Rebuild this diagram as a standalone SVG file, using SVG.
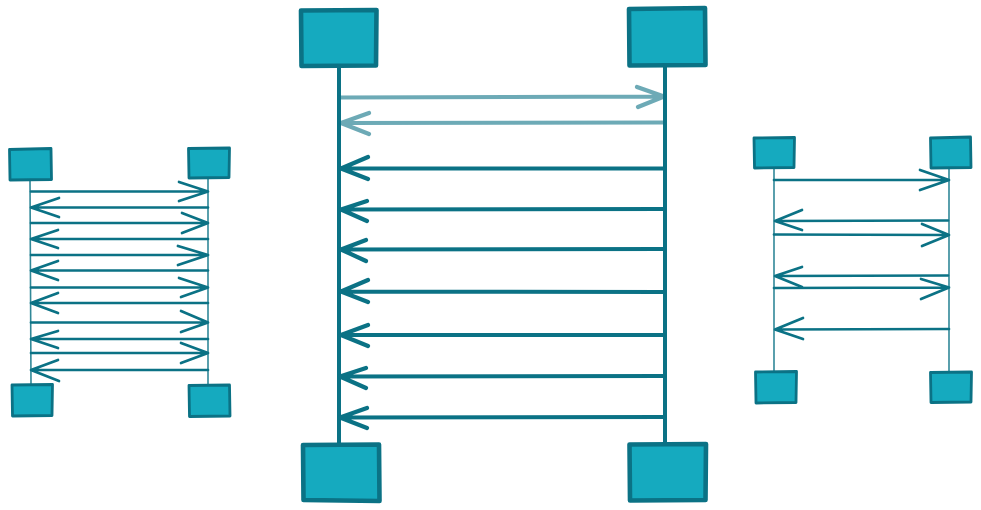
<svg xmlns="http://www.w3.org/2000/svg" width="981" height="510" viewBox="0 0 981 510">
<style>
.box{fill:#15aabf;stroke:#0b7285;stroke-linejoin:round}
.bs{stroke-width:2.8}
.bl{stroke-width:4.6}
.ln{fill:none;stroke:#0b7285;stroke-linecap:round;stroke-linejoin:round}
.life-s{stroke-width:1.6;opacity:0.85}
.life-l{stroke-width:4}
.s{stroke-width:2.7}
.l{stroke-width:4.2}
.faint{opacity:0.6}
</style>
<rect width="981" height="510" fill="#ffffff"/>
<g id="connectors">
  <path class="ln life-s" d="M30 180 L31 386"/>
  <path class="ln life-s" d="M208 178 L208 386"/>
  <path class="ln s" d="M31 191.5 L208 191.5 M179 182 L208 191.5 L179 201"/>
  <path class="ln s" d="M208 207.5 L31 207.5 M59 198 L31 207.5 L59 217"/>
  <path class="ln s" d="M31 223 L208 223 M182 213 L208 223 L182 233"/>
  <path class="ln s" d="M208 239 L31 239 M58 230 L31 239 L58 248"/>
  <path class="ln s" d="M31 255 L208 255 M178 246 L208 255 L178 265"/>
  <path class="ln s" d="M208 270.5 L31 270.5 M58 261 L31 270.5 L58 280"/>
  <path class="ln s" d="M31 287.5 L208 287.5 M179 278 L208 287.5 L181 297"/>
  <path class="ln s" d="M208 303 L31 303 M58 293 L31 303 L58 313"/>
  <path class="ln s" d="M31 322.5 L208 322.5 M181 311 L208 322.5 L181 332"/>
  <path class="ln s" d="M208 339 L31 339 M58 331 L31 339 L58 348"/>
  <path class="ln s" d="M31 353 L208 353 M181 343 L208 353 L181 363"/>
  <path class="ln s" d="M208 370 L31 370 M58 360 L31 370 L59 381"/>
  <path class="ln life-l" d="M339 66 L339 445"/>
  <path class="ln life-l" d="M665 65 L665 444"/>
  <path class="ln l faint" d="M340 97.5 L664 96.5 M637 87 L664 96.5 L638 107"/>
  <path class="ln l faint" d="M663 122.5 L341 123 M369 113 L341 123 L369 134"/>
  <path class="ln l" d="M663 168.5 L341 168.5 M368 157 L341 168.5 L368 179"/>
  <path class="ln l" d="M663 209 L341 209.5 M367 201 L341 209.5 L367 221"/>
  <path class="ln l" d="M663 249 L341 249.5 M366 240 L341 249.5 L366 261"/>
  <path class="ln l" d="M663 292 L341 291.5 M368 280 L341 291.5 L368 302"/>
  <path class="ln l" d="M663 335 L341 335 M368 325 L341 335 L368 346"/>
  <path class="ln l" d="M664 376 L340 376.5 M366 368 L340 376.5 L366 388"/>
  <path class="ln l" d="M664 417 L340 417.5 M367 408 L340 417.5 L367 428"/>
  <path class="ln life-s" d="M774 168 L774 372"/>
  <path class="ln life-s" d="M949 168 L949 373"/>
  <path class="ln s" d="M774 180 L949 180 M920 170 L949 180 L920 190"/>
  <path class="ln s" d="M948 220.5 L775 221 M802 210 L775 221 L802 230"/>
  <path class="ln s" d="M774 234.5 L949 235 M922 224 L949 235 L922 246"/>
  <path class="ln s" d="M948 275.5 L775 276 M802 267 L775 276 L802 287"/>
  <path class="ln s" d="M774 288 L949 287.5 M921 279 L949 287.5 L921 299"/>
  <path class="ln s" d="M949 329 L775 329.5 M803 318 L775 329.5 L803 339"/>
</g>
<g id="left-top-a"><path class="box bs" d="M9.5 149.5 L51 148.5 L51.5 179.5 L10 180 Z"/></g>
<g id="left-top-b"><path class="box bs" d="M188.5 148.5 L229.5 148 L229 177.5 L189 178 Z"/></g>
<g id="left-bottom-a"><path class="box bs" d="M12 385 L52.5 384.5 L52 415.5 L12.5 416 Z"/></g>
<g id="left-bottom-b"><path class="box bs" d="M189 385.5 L229.5 385 L230 416 L189.5 416.5 Z"/></g>
<g id="center-top-a"><path class="box bl" d="M301 10.5 L376.5 10 L376 65.5 L301.5 66 Z"/></g>
<g id="center-top-b"><path class="box bl" d="M629 9 L705 8 L705.5 65 L629.5 65.5 Z"/></g>
<g id="center-bottom-a"><path class="box bl" d="M303 445 L379 444.5 L379.5 501 L303.5 500 Z"/></g>
<g id="center-bottom-b"><path class="box bl" d="M629.5 444.5 L706 444 L705.5 500 L630 500.5 Z"/></g>
<g id="right-top-a"><path class="box bs" d="M754 138 L794.5 137.5 L794 167.5 L754.5 168 Z"/></g>
<g id="right-top-b"><path class="box bs" d="M930.5 138 L970.5 137 L971 167.5 L931 168 Z"/></g>
<g id="right-bottom-a"><path class="box bs" d="M755.5 372 L796.5 371.5 L796 402.5 L756 403 Z"/></g>
<g id="right-bottom-b"><path class="box bs" d="M930.5 372.5 L971.5 372 L971 402 L931 402.5 Z"/></g>
</svg>
